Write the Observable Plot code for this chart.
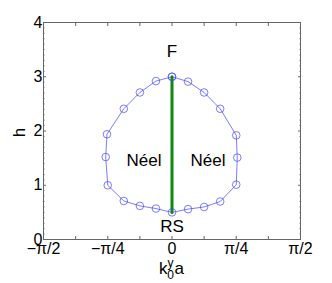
<!DOCTYPE html>
<html><head><meta charset="utf-8">
<script src="https://cdn.jsdelivr.net/npm/d3@7"></script>
<script src="https://cdn.jsdelivr.net/npm/@observablehq/plot@0.6"></script>
<style>body{margin:0;background:#fff} svg{display:block}</style>
</head><body><div id="chart"></div>
<script>
const PI = Math.PI;
// boundary points: k (in units of π) and h
const kPi = [0, 0.0625, 0.125, 0.1875, 0.25, 0.254, 0.25, 0.1875, 0.125, 0.0625, 0, -0.0625, -0.125, -0.1875, -0.25, -0.258, -0.253, -0.1875, -0.125, -0.0625, 0];
const hVals = [3.0, 2.91, 2.71, 2.41, 1.92, 1.51, 1.01, 0.70, 0.60, 0.56, 0.5, 0.57, 0.62, 0.71, 1.0, 1.52, 1.94, 2.41, 2.71, 2.92, 3.0];
// green segment at k=0
const greenK = [0];
const greenH = [0.5, 3.0];
// annotations
const annText = ["F", "RS", "Néel", "Néel"];
const annKPi = [0, 0, -0.109, 0.14];
const annH = [3.47, 0.23, 1.46, 1.46];
// axes
const xTickPi = [-0.5, -0.375, -0.25, -0.125, 0, 0.125, 0.25, 0.375, 0.5];
const xLabelPi = [-0.5, -0.25, 0, 0.25, 0.5];
const xLabels = ["−π/2", "−π/4", "0", "π/4", "π/2"];
const yMajor = [0, 1, 2, 3, 4];
const yMinor = [0.1,0.2,0.3,0.4,0.5,0.6,0.7,0.8,0.9,1.1,1.2,1.3,1.4,1.5,1.6,1.7,1.8,1.9,2.1,2.2,2.3,2.4,2.5,2.6,2.7,2.8,2.9,3.1,3.2,3.3,3.4,3.5,3.6,3.7,3.8,3.9];

const pts = kPi.map((k, i) => ({k: k * PI, h: hVals[i]}));
const green = greenH.map(h => ({k: greenK[0] * PI, h}));
const ann = annText.map((t, i) => ({t, k: annKPi[i] * PI, h: annH[i]}));
const xT = xTickPi.map(v => v * PI);
const xL = xLabelPi.map(v => v * PI);
const FONT = "'Liberation Sans', Arial, Helvetica, sans-serif";
const gray = "#666";
const none = () => "";

const plot = Plot.plot({
  width: 332, height: 283,
  marginLeft: 43, marginRight: 32, marginTop: 22, marginBottom: 44,
  x: {domain: [-PI/2, PI/2]},
  y: {domain: [0, 4]},
  style: {fontFamily: FONT, fontSize: "16px", color: "#000", background: "#fff", overflow: "visible"},
  marks: [
    Plot.axisX(xL, {anchor: "bottom", tickSize: 0, tickPadding: 3, fontSize: 16, label: null,
      tickFormat: d => xLabels[xL.findIndex(v => Math.abs(v - d) < 1e-9)]}),
    Plot.axisY(yMajor, {anchor: "left", tickSize: 0, tickPadding: 1, fontSize: 16, label: null, tickFormat: d => String(d)}),
    Plot.axisX(xT, {anchor: "bottom", tickSize: -3, stroke: gray, tickFormat: none, label: null}),
    Plot.axisX(xT, {anchor: "top", tickSize: -3, stroke: gray, tickFormat: none, label: null}),
    Plot.axisY(yMajor, {anchor: "left", tickSize: -3, stroke: gray, tickFormat: none, label: null}),
    Plot.axisY(yMajor, {anchor: "right", tickSize: -3, stroke: gray, tickFormat: none, label: null}),
    Plot.axisY(yMinor, {anchor: "left", tickSize: -1.5, stroke: gray, tickFormat: none, label: null}),
    Plot.axisY(yMinor, {anchor: "right", tickSize: -1.5, stroke: gray, tickFormat: none, label: null}),
    Plot.frame({stroke: gray}),
    Plot.line(pts, {x: "k", y: "h", stroke: "#4444ff", strokeWidth: 0.7, curve: "linear"}),
    Plot.line(green, {x: "k", y: "h", stroke: "#118811", strokeWidth: 3}),
    Plot.dot(pts, {x: "k", y: "h", r: 3.8, stroke: "#4444ff", strokeWidth: 0.7, fill: "none"}),
    Plot.text(ann, {x: "k", y: "h", text: "t", fontSize: 17, fill: "#000"})
  ]
});

const svg = d3.select(plot);
const xs = plot.scale("x"), ys = plot.scale("y");
const cx = xs.apply(0);
const xl = svg.append("text").attr("x", cx).attr("y", 274).attr("text-anchor", "middle")
  .attr("font-family", FONT).attr("font-size", 17).attr("fill", "#000");
xl.append("tspan").text("k");
xl.append("tspan").attr("font-size", 12).attr("dy", -7).text("y");
xl.append("tspan").attr("font-size", 12).attr("dx", -6.3).attr("dy", 11.5).text("0");
xl.append("tspan").attr("dy", -4.5).attr("dx", 0.5).text("a");

const cy = (ys.apply(0) + ys.apply(4)) / 2;
svg.append("text").attr("transform", `translate(25,${cy + 2}) rotate(-90)`).attr("text-anchor", "middle")
  .attr("font-family", FONT).attr("font-size", 17).attr("fill", "#000").text("h");

document.getElementById("chart").appendChild(plot);
</script>
</body></html>
